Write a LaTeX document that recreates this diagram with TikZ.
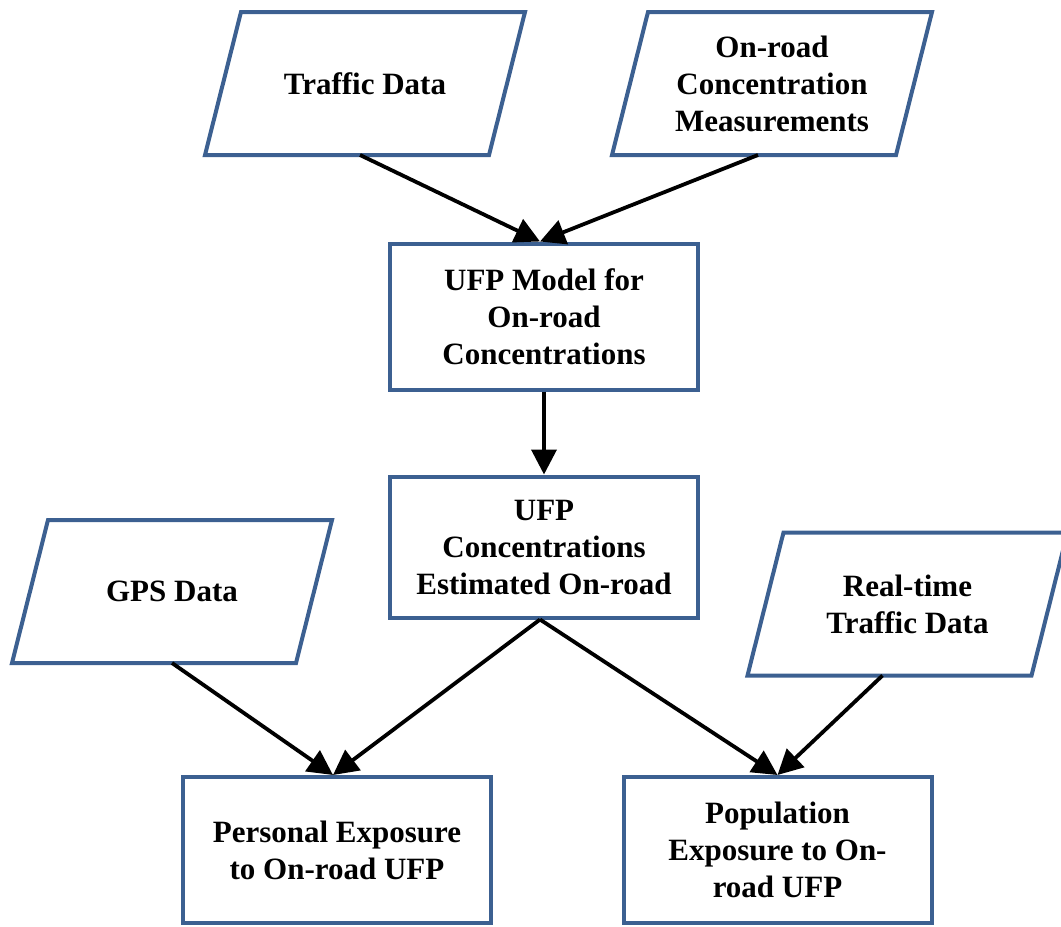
\documentclass[tikz,border=0pt]{standalone}
\usepackage{fontspec}
\setmainfont{Liberation Serif}
\usetikzlibrary{positioning,arrows.meta}
\definecolor{boxblue}{RGB}{60,96,145}

\tikzset{
  boxfont/.style={font=\fontsize{15.5}{18.5}\selectfont\bfseries},
  % slanted data box: text node plus a parallelogram round it
  datain/.style={rectangle, minimum width=142pt, minimum height=71.5pt,
    outer sep=0pt, align=center, boxfont,
    append after command={\pgfextra{\draw[boxblue, line width=2pt]
      ([xshift=9pt]\tikzlastnode.north west) -- ([xshift=9pt]\tikzlastnode.north east)
      -- ([xshift=-9pt]\tikzlastnode.south east) -- ([xshift=-9pt]\tikzlastnode.south west)
      -- cycle;}}},
  procbox/.style={rectangle, draw=boxblue, line width=2pt, fill=white,
    minimum width=154pt, minimum height=73pt, align=center, boxfont},
  flow/.style={-{Triangle[length=12.5pt,width=12.5pt]}, line width=1.9pt},
}

\begin{document}
\begin{tikzpicture}[x=0.5pt, y=-0.5pt]
      \useasboundingbox (0,0) rectangle (1061,927);

      \node[procbox] (model) at (544,316.5) {UFP Model for\\On-road\\Concentrations};
      \node[procbox, minimum height=70.5pt, below=41.5pt of model] (conc)
        {UFP\\Concentrations\\Estimated On-road};

      \node[datain] (traffic) at (365,83.5) {Traffic Data};
      \node[datain] (onroad) at (772,83.5) {On-road\\Concentration\\Measurements};
      \node[datain] (gps) at (172,591.5) {GPS Data};
      \node[datain] (realtime) at (907.5,604) {Real-time\\Traffic Data};

      \node[procbox] (personal) at (337,850) {Personal Exposure\\to On-road UFP};
      \node[procbox] (population) at (777.5,850) {Population\\Exposure to On-\\road UFP};

      \draw[flow] ([xshift=-2.5pt]traffic.south) -- ([xshift=-2pt]model.north);
      \draw[flow] ([xshift=-7pt]onroad.south) -- ([xshift=-2pt]model.north);
      \draw[flow] (model) -- (conc);
      \draw[flow] (gps.south) -- ([xshift=-2pt]personal.north);
      \draw[flow] ([xshift=-2pt]conc.south) -- ([xshift=-2pt]personal.north);
      \draw[flow] ([xshift=-2pt]conc.south) -- (population.north);
      \draw[flow] ([xshift=-12.5pt]realtime.south) -- (population.north);
\end{tikzpicture}
\end{document}
